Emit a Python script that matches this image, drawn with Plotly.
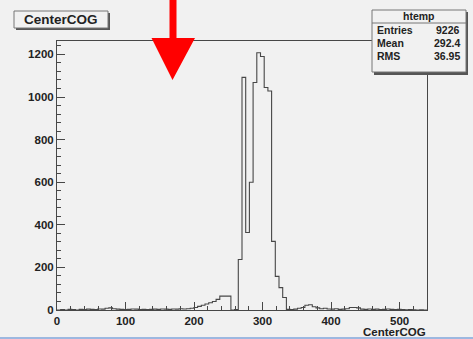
import plotly.graph_objects as go

# ---- data ----
x_min, x_max, n_bins = 0.0, 540.0, 100
counts = [0, 2, 0, 3, 2, 0, 3, 2, 4, 3,
          2, 5, 4, 8, 10, 6, 4, 3, 2, 3,
          5, 4, 2, 3, 2, 3, 4, 3, 5, 4,
          3, 5, 4, 6, 5, 6, 8, 12, 17, 22,
          28, 34, 40, 50, 65, 65, 65, 0, 2, 237,
          1092, 364, 600, 1068, 1208, 1190, 1045, 1028, 322, 158,
          105, 59, 3, 2, 4, 8, 12, 22, 25, 15,
          10, 6, 8, 5, 4, 6, 3, 4, 6, 12,
          12, 10, 4, 3, 5, 3, 4, 2, 3, 5,
          3, 2, 3, 2, 1, 2, 1, 0, 1, 0]
hist_title = "CenterCOG"
stats_title = "htemp"
stats_labels = ["Entries", "Mean", "RMS"]
stats_values = ["9226", "292.4", "36.95"]
y_max = 1263

W, H = 473, 339
L, R, T, B = 57, 46, 41, 29
PW, PH = W - L - R, H - T - B

def px(xp):
    return (xp - L) / PW

def py(yp):
    return (H - B - yp) / PH

bw = (x_max - x_min) / n_bins
edges = [x_min + i * bw for i in range(n_bins + 1)]
xs = [edges[0]] + edges
ys = [0] + counts + [0]

LINE = "#474747"
BG = "#f1f1f1"
FONT = "Liberation Sans, Arial, sans-serif"

fig = go.Figure()
fig.add_trace(go.Scatter(x=xs, y=ys, mode="lines", line=dict(shape="hv", color=LINE, width=1.1),
                         hoverinfo="skip", showlegend=False))

fig.update_layout(
    width=W, height=H, margin=dict(l=L, r=R, t=T, b=B, pad=0, autoexpand=False),
    paper_bgcolor=BG, plot_bgcolor=BG, showlegend=False,
    font=dict(family=FONT, size=11, color="#222"),
)
axis_common = dict(showgrid=False, zeroline=False, showline=True, mirror=True,
                   linecolor=LINE, linewidth=1, ticks="inside", tickcolor=LINE,
                   ticklen=8, tickwidth=1, automargin=False,
                   tickfont=dict(family=FONT, size=11.5, color="#222", weight="bold"))
fig.update_xaxes(range=[x_min, x_max], dtick=100, tick0=0,
                 minor=dict(dtick=20, ticklen=4, ticks="inside", tickcolor=LINE),
                 **axis_common)
fig.update_yaxes(range=[0, y_max], dtick=200, tick0=0,
                 minor=dict(dtick=40, ticklen=4, ticks="inside", tickcolor=LINE),
                 **axis_common)

shapes = []
annots = []

# x-axis title
annots.append(dict(xref="paper", yref="paper", x=px(428), y=py(331.5), xanchor="right", yanchor="middle",
                   text=hist_title, showarrow=False,
                   font=dict(family=FONT, size=11.5, color="#222", weight="bold")))

# title box with shadow
tb = (14, 11, 108, 28)
shapes.append(dict(type="rect", xref="paper", yref="paper", x0=px(tb[0] + 2), y0=py(tb[3] + 2),
                   x1=px(tb[2] + 2), y1=py(tb[1] + 2), fillcolor="#555", line=dict(width=0), layer="above"))
shapes.append(dict(type="rect", xref="paper", yref="paper", x0=px(tb[0]), y0=py(tb[3]),
                   x1=px(tb[2]), y1=py(tb[1]), fillcolor=BG, line=dict(width=1, color="#777"), layer="above"))
annots.append(dict(xref="paper", yref="paper", x=px((tb[0] + tb[2]) / 2), y=py((tb[1] + tb[3]) / 2),
                   xanchor="center", yanchor="middle", text=hist_title, showarrow=False,
                   font=dict(family=FONT, size=13.5, color="#222", weight="bold")))

# stats box with shadow
sb = (372, 10, 466, 72)
shapes.append(dict(type="rect", xref="paper", yref="paper", x0=px(sb[0] + 2), y0=py(sb[3] + 3),
                   x1=px(sb[2] + 2), y1=py(sb[1] + 2), fillcolor="#555", line=dict(width=0), layer="above"))
shapes.append(dict(type="rect", xref="paper", yref="paper", x0=px(sb[0]), y0=py(sb[3]),
                   x1=px(sb[2]), y1=py(sb[1]), fillcolor=BG, line=dict(width=1, color="#777"), layer="above"))
shapes.append(dict(type="line", xref="paper", yref="paper", x0=px(sb[0]), y0=py(23),
                   x1=px(sb[2]), y1=py(23), line=dict(width=1, color="#777"), layer="above"))
annots.append(dict(xref="paper", yref="paper", x=px((sb[0] + sb[2]) / 2), y=py(16.5),
                   xanchor="center", yanchor="middle", text=stats_title, showarrow=False,
                   font=dict(family=FONT, size=10.5, color="#222", weight="bold")))
for i, (lab, val) in enumerate(zip(stats_labels, stats_values)):
    yy = 30 + i * 12.8
    annots.append(dict(xref="paper", yref="paper", x=px(375), y=py(yy), xanchor="left", yanchor="middle",
                       text=lab, showarrow=False,
                       font=dict(family=FONT, size=10.5, color="#222", weight="bold")))
    annots.append(dict(xref="paper", yref="paper", x=px(462), y=py(yy), xanchor="right", yanchor="middle",
                       text=val, showarrow=False,
                       font=dict(family=FONT, size=10.5, color="#222", weight="bold")))

# red arrow
def pt(a, b):
    return f"{px(a)},{py(b)}"
arrow = ("M " + pt(169.5, -2) + " L " + pt(176.5, -2) + " L " + pt(176.5, 38) + " L " + pt(195, 38)
         + " L " + pt(172.5, 80) + " L " + pt(151.5, 38) + " L " + pt(169.5, 38) + " Z")
shapes.append(dict(type="path", xref="paper", yref="paper", path=arrow, fillcolor="#ff0000",
                   line=dict(width=0), layer="above"))

# bottom window border line
shapes.append(dict(type="line", xref="paper", yref="paper", x0=px(0), y0=py(338), x1=px(W), y1=py(338),
                   line=dict(width=2, color="#9db8e0"), layer="above"))

fig.update_layout(shapes=shapes, annotations=annots)
fig.write_html("out.html", config={"displayModeBar": False},
               post_script="document.body.style.margin='0px';document.body.style.overflow='hidden';")
